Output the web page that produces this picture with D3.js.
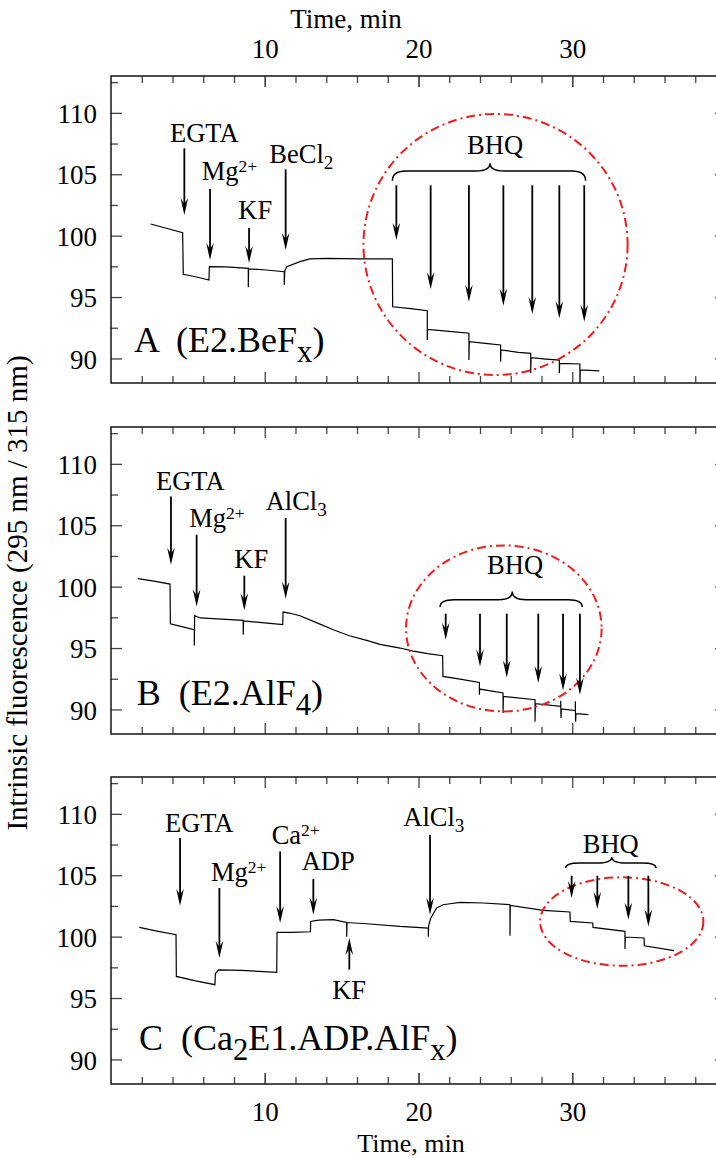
<!DOCTYPE html>
<html><head><meta charset="utf-8">
<script src="https://cdn.jsdelivr.net/npm/d3@7"></script>
<style>
html,body{margin:0;padding:0;background:#fff;}
svg{display:block;}
</style></head>
<body>
<script>
// ---------------- DATA ----------------
const timeDomain = [0, 40];
const fluorDomain = [88, 113];
const xMajorTicks = [10, 20, 30];
const xMinorTicks = [2, 4, 6, 8, 12, 14, 16, 18, 22, 24, 26, 28, 32, 34, 36, 38];
const yMajorTicks = [90, 95, 100, 105, 110];
const yMinorTicks = [92.5, 97.5, 102.5, 107.5, 112.5];
const xTitle = "Time, min";
const yTitle = "Intrinsic fluorescence (295 nm / 315 nm)";

// traces: [time (min), fluorescence]
const traceA = [[2.58,100.95],[3.6,100.6],[4.66,100.24],[4.7,96.85],[5.5,96.65],[6.37,96.39],[6.4,97.47],[7.5,97.45],[8.93,97.34],[8.93,95.79],[8.95,97.3],[10.1,97.2],[11.27,97.06],[11.27,95.98],[11.3,97.1],[11.43,97.47],[12.29,97.88],[12.94,98.1],[14.03,98.15],[16.2,98.1],[18.3,98.1],[18.32,94.21],[19.5,94.05],[20.57,93.89],[20.57,91.5],[20.59,92.37],[22,92.2],[23.28,92.05],[23.28,89.87],[23.3,91.36],[24.5,91.2],[25.34,91.1],[25.34,89.73],[25.36,90.69],[26.5,90.5],[27.3,90.42],[27.3,88.79],[27.32,90.06],[28.3,89.95],[29.16,89.87],[29.16,88.79],[29.18,89.6],[30.5,89.55],[30.5,87.5],[30.52,89.06],[31.76,88.98]];
const traceB = [[1.74,100.65],[2.8,100.45],[3.84,100.21],[3.86,96.98],[4.6,96.75],[5.42,96.49],[5.42,95.21],[5.44,97.63],[5.8,97.45],[7.2,97.35],[8.6,97.25],[8.6,96.09],[8.62,97.2],[10,97.05],[11.17,96.9],[11.19,97.93],[11.6,97.85],[12.29,97.63],[13.4,97.05],[14.46,96.49],[15.5,96.0],[16.63,95.62],[17.5,95.3],[18.8,95.0],[19.66,94.75],[20.6,94.55],[21.57,94.38],[21.59,92.69],[22.8,92.45],[23.96,92.2],[23.96,91.2],[23.98,91.66],[25.5,91.34],[25.5,89.71],[25.52,91.06],[27.58,90.79],[27.58,89.0],[27.6,90.47],[29.25,90.25],[29.25,90.7],[29.27,89.3],[29.29,90.04],[30.2,89.9],[30.2,90.66],[30.22,89.0],[30.24,89.65],[31.05,89.57]];
const traceC = [[1.84,100.75],[3,100.45],[4.23,100.16],[4.25,96.76],[5.5,96.4],[6.76,96.09],[6.79,97.0],[7.0,97.3],[8.5,97.25],[10.78,97.09],[10.8,100.35],[11.8,100.35],[12.97,100.4],[12.99,101.24],[13.5,101.35],[14.46,101.38],[15.33,101.16],[15.33,100.0],[15.35,101.15],[16.63,101.05],[18.8,100.83],[20.64,100.7],[20.64,100.0],[20.66,100.9],[20.8,101.52],[21.18,102.33],[21.6,102.6],[22.05,102.68],[22.7,102.79],[24.22,102.74],[25.95,102.6],[25.95,100.08],[25.97,102.55],[28.12,102.14],[29.85,102.01],[29.87,101.24],[31.33,101.11],[31.35,100.75],[33.43,100.43],[33.43,98.99],[33.45,99.97],[34.67,99.89],[34.69,99.26],[36.62,98.86]];

// arrows: [time, tail value, tip value]
const arrowsA = [[4.77,107.11,101.68],[6.44,103.8,98.02],[8.98,100.62,97.77],[11.36,105.4,98.83]];
const bhqTimesA = [18.56,20.79,23.28,25.52,27.40,29.16,30.78];
const bhqTipsA = [99.64,95.63,94.62,94.29,93.62,93.27,92.99];
const bhqTailA = 104.1;
const arrowsB = [[3.9,107.35,101.79],[5.57,104.23,98.39],[8.67,100.89,98.07],[11.36,105.59,99.02]];
const bhqTimesB = [21.77,24.0,25.74,27.79,29.4,30.5];
const bhqTipsB = [95.68,93.5,92.61,92.15,91.55,91.2];
const bhqTailB = 97.8;
const arrowsC = [[4.49,108.03,102.52],[7.05,103.96,98.26],[11.0,106.94,101.11],[13.16,104.69,101.79],[15.5,97.31,99.89],[20.75,108.3,101.79]];
const bhqTimesC = [29.96,31.63,33.65,34.95];
const bhqTipsC = [103.15,102.25,101.38,100.83];
const bhqTailC = 104.96;

// braces: [t start, t end, t middle, value base, value line, value tip]
const braceA = [18.3,30.87,24.65,104.47,105.26,105.89];
const braceB = [21.4,30.65,26.1,98.34,98.94,99.61];
const braceC = [29.57,35.45,32.57,105.59,106.0,106.49];

// dash-dot ellipses: [t center, value center, rx (min), ry (value units)]
const ellipseA = [25.01,99.28,8.59,10.63];
const ellipseB = [25.55,96.6,6.36,6.76];
const ellipseC = [33.22,101.23,5.31,3.6];

// labels: {t, v, parts, anchor}
const labelsA = [
  {t:3.84, v:107.65, parts:[["EGTA"]]},
  {t:5.9, v:104.53, parts:[["Mg"],["2+","sup"]]},
  {t:8.28, v:101.36, parts:[["KF"]]},
  {t:10.3, v:105.89, parts:[["BeCl"],["2","sub"]]},
  {t:24.98, v:106.65, parts:[["BHQ"]], anchor:"middle"}
];
const labelsB = [
  {t:2.93, v:107.84, parts:[["EGTA"]]},
  {t:5.09, v:104.86, parts:[["Mg"],["2+","sup"]]},
  {t:8.02, v:101.52, parts:[["KF"]]},
  {t:10.06, v:106.27, parts:[["AlCl"],["3","sub"]]},
  {t:26.28, v:101.05, parts:[["BHQ"]], anchor:"middle"}
];
const labelsC = [
  {t:3.51, v:108.49, parts:[["EGTA"]]},
  {t:6.5, v:104.5, parts:[["Mg"],["2+","sup"]]},
  {t:10.45, v:107.57, parts:[["Ca"],["2+","sup"]]},
  {t:12.4, v:105.45, parts:[["ADP"]]},
  {t:14.39, v:94.92, parts:[["KF"]]},
  {t:19.01, v:108.98, parts:[["AlCl"],["3","sub"]]},
  {t:32.5, v:106.84, parts:[["BHQ"]], anchor:"middle"}
];
const panelLabelA = {t:1.5, v:90.52, parts:[["A  (E2.BeF"],["x","sub"],[")"]]};
const panelLabelB = {t:1.67, v:90.39, parts:[["B  (E2.AlF"],["4","sub"],[")"]]};
const panelLabelC = {t:1.82, v:90.79, parts:[["C  (Ca"],["2","sub"],["E1.ADP.AlF"],["x","sub"],[")"]]};

// ---------------- LAYOUT ----------------
const W = 716, H = 1158;
const FONT = "'Liberation Serif','Times New Roman',Times,serif";
const xLeft = 111, xRight = 726;
const panelTops = [76, 427, 777];
const panelH = 307;
const majorLen = 11, minorLen = 7;

const svg = d3.select("body").append("svg").attr("width", W).attr("height", H)
  .style("font-family", FONT);
svg.append("rect").attr("width", W).attr("height", H).attr("fill", "#fff");

const x = d3.scaleLinear().domain(timeDomain).range([xLeft, xRight]);

const panels = [
  {trace: traceA, arrows: arrowsA, bhqT: bhqTimesA, bhqTips: bhqTipsA, bhqTail: bhqTailA, brace: braceA, ell: ellipseA, labels: labelsA, plabel: panelLabelA},
  {trace: traceB, arrows: arrowsB, bhqT: bhqTimesB, bhqTips: bhqTipsB, bhqTail: bhqTailB, brace: braceB, ell: ellipseB, labels: labelsB, plabel: panelLabelB},
  {trace: traceC, arrows: arrowsC, bhqT: bhqTimesC, bhqTips: bhqTipsC, bhqTail: bhqTailC, brace: braceC, ell: ellipseC, labels: labelsC, plabel: panelLabelC}
];

function richText(g, px, py, parts, size, anchor, subScale, subShift, supScale, supShift) {
  const t = g.append("text").attr("x", px).attr("y", py)
    .attr("font-size", size).attr("text-anchor", anchor || "start")
    .style("white-space", "pre").attr("fill", "#000");
  let offset = 0;
  parts.forEach(p => {
    const kind = p[1];
    let target = 0, fs = size;
    if (kind === "sub") { target = subShift; fs = size * subScale; }
    if (kind === "sup") { target = -supShift; fs = size * supScale; }
    t.append("tspan").attr("dy", target - offset).attr("font-size", fs).text(p[0]);
    offset = target;
  });
  return t;
}

function arrow(g, xp, yTail, yTip) {
  const d = yTip > yTail ? 1 : -1;
  const headL = 17, headW = 3.8, notch = 11;
  g.append("line").attr("x1", xp).attr("x2", xp).attr("y1", yTail).attr("y2", yTip - d * notch)
    .attr("stroke", "#000").attr("stroke-width", 1.8);
  g.append("path").attr("d",
    `M${xp},${yTip} L${xp - headW},${yTip - d * headL} L${xp},${yTip - d * notch} L${xp + headW},${yTip - d * headL} Z`)
    .attr("fill", "#000");
}

panels.forEach((P, i) => {
  const top = panelTops[i], bottom = top + panelH;
  const y = d3.scaleLinear().domain(fluorDomain).range([bottom, top]);
  const g = svg.append("g");

  const clipId = "clip" + i;
  svg.append("clipPath").attr("id", clipId).append("rect")
    .attr("x", xLeft).attr("y", top).attr("width", xRight - xLeft).attr("height", panelH);

  // ticks (inward) on all four sides
  const mkAxis = (axisFn, scale, vals, len, translate) => {
    const a = g.append("g").attr("transform", translate)
      .call(axisFn(scale).tickValues(vals).tickSize(-len).tickFormat(""));
    a.select(".domain").remove();
    a.selectAll("line").attr("stroke", "#444").attr("stroke-width", 1.3);
    return a;
  };
  mkAxis(d3.axisTop, x, xMinorTicks, minorLen, `translate(0,${top})`);
  mkAxis(d3.axisTop, x, xMajorTicks, majorLen, `translate(0,${top})`);
  mkAxis(d3.axisBottom, x, xMinorTicks, minorLen, `translate(0,${bottom})`);
  mkAxis(d3.axisBottom, x, xMajorTicks, majorLen, `translate(0,${bottom})`);
  mkAxis(d3.axisLeft, y, yMinorTicks, minorLen, `translate(${xLeft},0)`);
  mkAxis(d3.axisRight, y, yMinorTicks, minorLen, `translate(${xRight},0)`);
  mkAxis(d3.axisRight, y, yMajorTicks, majorLen, `translate(${xRight},0)`);

  // left axis with labels
  const la = g.append("g").attr("transform", `translate(${xLeft},0)`)
    .call(d3.axisLeft(y).tickValues(yMajorTicks).tickSize(-majorLen).tickPadding(14).tickFormat(d3.format("d")));
  la.select(".domain").remove();
  la.selectAll("line").attr("stroke", "#444").attr("stroke-width", 1.3);
  la.selectAll("text").attr("font-size", 27).attr("font-family", FONT).attr("fill", "#000").attr("dy", "0.36em");

  if (i === 0) {
    const ta = g.append("g").attr("transform", `translate(0,${top})`)
      .call(d3.axisTop(x).tickValues(xMajorTicks).tickSize(-majorLen).tickPadding(18).tickFormat(d3.format("d")));
    ta.select(".domain").remove();
    ta.selectAll("line").attr("stroke", "#444").attr("stroke-width", 1.3);
    ta.selectAll("text").attr("font-size", 27).attr("font-family", FONT).attr("fill", "#000");
    svg.append("text").attr("x", 346).attr("y", 28).attr("text-anchor", "middle")
      .attr("font-size", 27).text(xTitle);
  }
  if (i === 2) {
    const ba = g.append("g").attr("transform", `translate(0,${bottom})`)
      .call(d3.axisBottom(x).tickValues(xMajorTicks).tickSize(-majorLen).tickPadding(18).tickFormat(d3.format("d")));
    ba.select(".domain").remove();
    ba.selectAll("line").attr("stroke", "#444").attr("stroke-width", 1.3);
    ba.selectAll("text").attr("font-size", 27).attr("font-family", FONT).attr("fill", "#000");
    svg.append("text").attr("x", 411).attr("y", 1152).attr("text-anchor", "middle")
      .attr("font-size", 26).text(xTitle);
  }

  // frame
  g.append("rect").attr("x", xLeft).attr("y", top).attr("width", xRight - xLeft).attr("height", panelH)
    .attr("fill", "none").attr("stroke", "#222").attr("stroke-width", 1.6);

  // trace
  g.append("path").datum(P.trace).attr("clip-path", `url(#${clipId})`)
    .attr("d", d3.line().x(d => x(d[0])).y(d => y(d[1])))
    .attr("fill", "none").attr("stroke", "#000").attr("stroke-width", 1.2).attr("stroke-linejoin", "miter");

  // red dash-dot ellipse
  const e = P.ell;
  g.append("ellipse").attr("cx", x(e[0])).attr("cy", y(e[1]))
    .attr("rx", x(e[0] + e[2]) - x(e[0])).attr("ry", y(e[1] - e[3]) - y(e[1]))
    .attr("fill", "none").attr("stroke", "#ee1c1c").attr("stroke-width", 2)
    .attr("stroke-dasharray", "9,4,2,4");

  // arrows
  P.arrows.forEach(a => arrow(g, x(a[0]), y(a[1]), y(a[2])));
  P.bhqT.forEach((t, k) => arrow(g, x(t), y(P.bhqTail), y(P.bhqTips[k])));

  // brace
  const b = P.brace;
  const x0 = x(b[0]), x1 = x(b[1]), xm = x(b[2]);
  const yb = y(b[3]), yl = y(b[4]), yt = y(b[5]);
  const r = 14;
  g.append("path").attr("d",
    `M${x0},${yb} Q${x0},${yl} ${x0 + r},${yl} L${xm - r},${yl} Q${xm},${yl} ${xm},${yt} ` +
    `Q${xm},${yl} ${xm + r},${yl} L${x1 - r},${yl} Q${x1},${yl} ${x1},${yb}`)
    .attr("fill", "none").attr("stroke", "#000").attr("stroke-width", 1.5);

  // labels
  P.labels.forEach(L => richText(g, x(L.t), y(L.v), L.parts, 26.5, L.anchor, 0.72, 6, 0.66, 8));
  richText(g, x(P.plabel.t), y(P.plabel.v), P.plabel.parts, 36, "start", 0.85, 10, 0.66, 10);
});

// y-axis title
svg.append("text").attr("transform", "translate(27,593) rotate(-90)")
  .attr("text-anchor", "middle").attr("font-size", 29).text(yTitle);
</script>
</body></html>
